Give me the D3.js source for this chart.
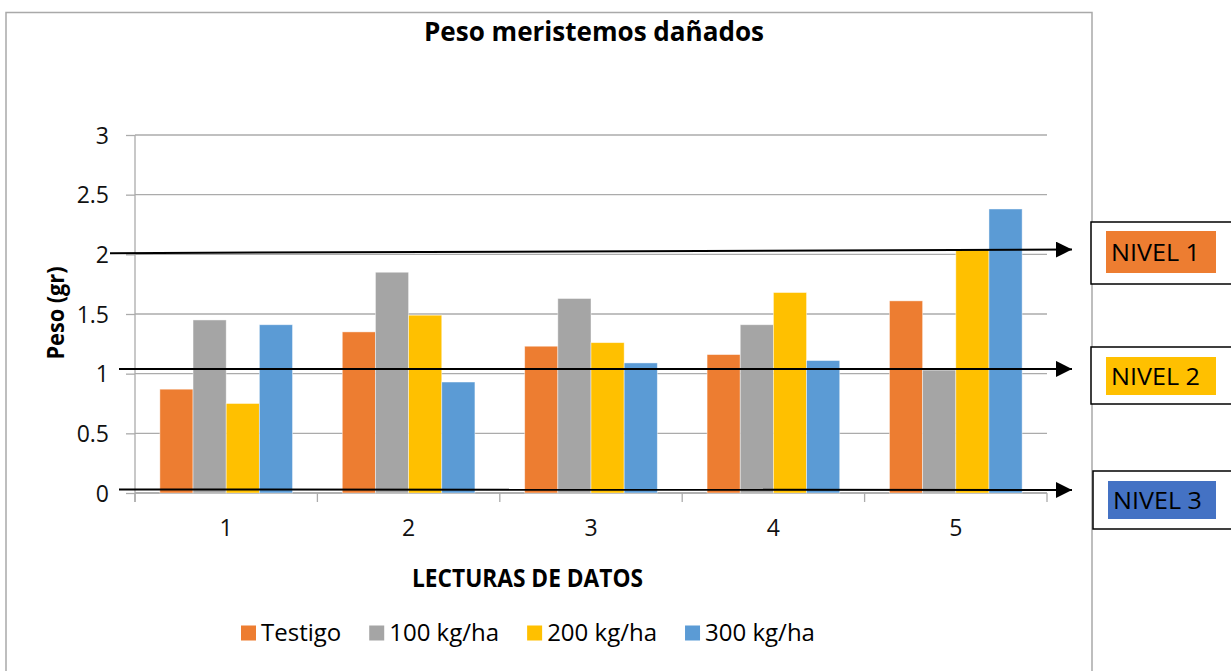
<!DOCTYPE html>
<html>
<head>
<meta charset="utf-8">
<script src="https://cdn.jsdelivr.net/npm/d3@7"></script>
<style>
  html, body { margin: 0; padding: 0; background: #fff; }
  svg { display: block; font-family: 'Open Sans', 'Noto Sans', sans-serif; }
</style>
</head>
<body>
<svg id="chart" width="1231" height="671"></svg>
<script>
// ---- data ----
const chartTitle = "Peso meristemos dañados";
const yTitle = "Peso (gr)";
const xTitle = "LECTURAS DE DATOS";
const categories = ["1", "2", "3", "4", "5"];
const seriesNames = ["Testigo", "100 kg/ha", "200 kg/ha", "300 kg/ha"];
const testigo = [0.87, 1.35, 1.23, 1.16, 1.61];
const kg100   = [1.45, 1.85, 1.63, 1.41, 1.03];
const kg200   = [0.75, 1.49, 1.26, 1.68, 2.04];
const kg300   = [1.41, 0.93, 1.09, 1.11, 2.38];
const yTicks = [0, 0.5, 1, 1.5, 2, 2.5, 3];
const nivelLabels = ["NIVEL 1", "NIVEL 2", "NIVEL 3"];
// value where each level arrow starts and ends
const nivelStart = [2.01, 1.04, 0.03];
const nivelEnd   = [2.04, 1.04, 0.025];

const seriesValues = [testigo, kg100, kg200, kg300];
const seriesColors = ["#ED7D31", "#A5A5A5", "#FFC000", "#5B9BD5"];
const nivelColors = ["#ED7D31", "#FFC000", "#4472C4"];

// ---- layout ----
const svg = d3.select("#chart");
const plot = { left: 135, right: 1047, top: 135, bottom: 493 };

const x = d3.scaleBand().domain(categories).range([plot.left, plot.right]).padding(0);
const bw = x.bandwidth();
const gapFrac = 0.75 / 5.5; // Excel-style gap width of 150%
const xs = d3.scaleBand().domain(seriesNames).range([bw * gapFrac, bw * (1 - gapFrac)]).padding(0);
const y = d3.scaleLinear().domain([0, 3]).range([plot.bottom, plot.top]);

// chart frame
svg.append("rect")
  .attr("x", 6).attr("y", 12.5).attr("width", 1086).attr("height", 700)
  .attr("fill", "none").attr("stroke", "#A9A9A9").attr("stroke-width", 1.5);

// title
svg.append("text")
  .attr("x", 594).attr("y", 41)
  .attr("text-anchor", "middle")
  .attr("font-weight", "bold").attr("font-size", 26)
  .attr("textLength", 340).attr("lengthAdjust", "spacingAndGlyphs")
  .attr("fill", "#000")
  .text(chartTitle);

// horizontal gridlines
svg.append("g").selectAll("line").data(yTicks).join("line")
  .attr("x1", plot.left).attr("x2", plot.right)
  .attr("y1", d => y(d)).attr("y2", d => y(d))
  .attr("stroke", "#ABABAB").attr("stroke-width", 1.3);

// y axis
const yAxis = svg.append("g")
  .attr("transform", `translate(${plot.left},0)`)
  .call(d3.axisLeft(y).tickValues(yTicks).tickSize(9).tickPadding(17).tickFormat(d3.format("")));
yAxis.select(".domain").attr("stroke", "#ABABAB").attr("stroke-width", 1.3)
  .attr("d", `M0,${plot.top}V${plot.bottom + 9}`);
yAxis.selectAll(".tick line").attr("stroke", "#ABABAB").attr("stroke-width", 1.3);
yAxis.selectAll(".tick text").attr("font-size", 23).attr("fill", "#111")
  .attr("font-family", "'Open Sans', sans-serif").attr("dy", "0.36em");

// x axis
const xAxis = svg.append("g")
  .attr("transform", `translate(0,${plot.bottom})`)
  .call(d3.axisBottom(x).tickSize(0).tickPadding(27));
xAxis.select(".domain").attr("stroke", "#ABABAB").attr("stroke-width", 1.3)
  .attr("d", `M${plot.left},0H${plot.right}`);
xAxis.selectAll(".tick text").attr("font-size", 23).attr("fill", "#111")
  .attr("font-family", "'Open Sans', sans-serif");
// category boundary ticks
svg.append("g").selectAll("line")
  .data(categories.map(c => x(c)).concat([x(categories[categories.length - 1]) + bw]))
  .join("line")
  .attr("x1", d => d).attr("x2", d => d)
  .attr("y1", plot.bottom).attr("y2", plot.bottom + 9)
  .attr("stroke", "#ABABAB").attr("stroke-width", 1.3);

// bars
const barData = [];
seriesNames.forEach((s, i) => {
  categories.forEach((c, j) => barData.push({ series: s, cat: c, value: seriesValues[i][j], color: seriesColors[i] }));
});
svg.append("g").selectAll("rect").data(barData).join("rect")
  .attr("x", d => x(d.cat) + xs(d.series))
  .attr("y", d => y(d.value))
  .attr("width", xs.bandwidth())
  .attr("height", d => y(0) - y(d.value))
  .attr("fill", d => d.color)
  .attr("stroke", "#fff").attr("stroke-opacity", 0.55).attr("stroke-width", 0.8);

// axis titles
svg.append("text")
  .attr("transform", `translate(64,${313}) rotate(-90)`)
  .attr("text-anchor", "middle")
  .attr("font-weight", "bold").attr("font-size", 24)
  .attr("textLength", 93).attr("lengthAdjust", "spacingAndGlyphs")
  .attr("fill", "#000")
  .text(yTitle);

svg.append("text")
  .attr("x", 527.5).attr("y", 587)
  .attr("text-anchor", "middle")
  .attr("font-weight", "bold").attr("font-size", 25)
  .attr("textLength", 231).attr("lengthAdjust", "spacingAndGlyphs")
  .attr("fill", "#000")
  .text(xTitle);

// legend, laid out left to right
const legend = svg.append("g");
let lx = 241;
seriesNames.forEach((s, i) => {
  legend.append("rect")
    .attr("x", lx).attr("y", 625.5).attr("width", 15).attr("height", 15)
    .attr("fill", seriesColors[i]);
  const t = legend.append("text")
    .attr("x", lx + 20).attr("y", 641)
    .attr("font-size", 24).attr("fill", "#000")
    .text(s);
  lx += 20 + t.node().getComputedTextLength() + 28;
});

// level arrows
const arrowDefs = svg.append("defs");
arrowDefs.append("marker")
  .attr("id", "arrowhead")
  .attr("viewBox", "0 0 10 10")
  .attr("refX", 10).attr("refY", 5)
  .attr("markerWidth", 8).attr("markerHeight", 8)
  .attr("markerUnits", "strokeWidth")
  .attr("orient", "auto")
  .append("path").attr("d", "M0,0L10,5L0,10Z").attr("fill", "#000");

const arrowStartX = [110, 119, 119];
svg.append("g").selectAll("line").data(nivelLabels).join("line")
  .attr("x1", (d, i) => arrowStartX[i])
  .attr("x2", 1072)
  .attr("y1", (d, i) => y(nivelStart[i]))
  .attr("y2", (d, i) => y(nivelEnd[i]))
  .attr("stroke", "#000").attr("stroke-width", 2)
  .attr("marker-end", "url(#arrowhead)");

// level boxes
const boxTop = [222, 347, 471];
const boxH = [62, 57, 58];
const boxLeft = [1091, 1091, 1093];
const innerLeft = [1106, 1106, 1108];
const innerTop = [231, 357, 481];
const innerH = [42, 38, 38];
nivelLabels.forEach((lab, i) => {
  svg.append("rect")
    .attr("x", boxLeft[i]).attr("y", boxTop[i])
    .attr("width", 160).attr("height", boxH[i])
    .attr("fill", "#fff").attr("stroke", "#000").attr("stroke-width", 1.5);
  svg.append("rect")
    .attr("x", innerLeft[i]).attr("y", innerTop[i])
    .attr("width", 1216 - innerLeft[i]).attr("height", innerH[i])
    .attr("fill", nivelColors[i]);
  svg.append("text")
    .attr("x", innerLeft[i] + 5).attr("y", innerTop[i] + innerH[i] / 2)
    .attr("dy", "0.36em")
    .attr("font-size", 24).attr("fill", "#000")
    .attr("textLength", 89).attr("lengthAdjust", "spacingAndGlyphs")
    .text(lab);
});
</script>
</body>
</html>
